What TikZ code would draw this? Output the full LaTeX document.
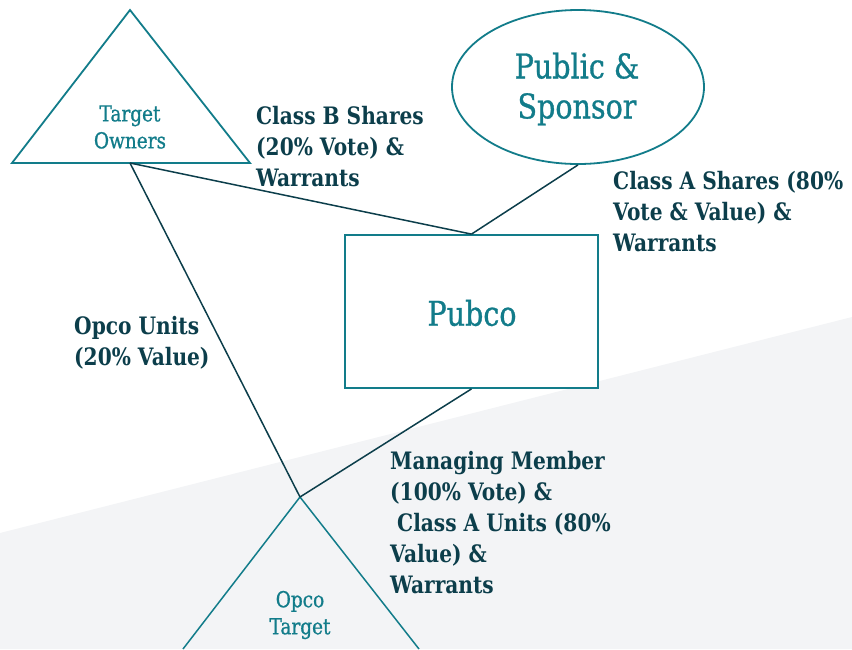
\documentclass[tikz,border=0pt]{standalone}
\usepackage{fontspec}
\setmainfont{DejaVu Serif}[FakeStretch=0.84]
\newfontfamily\tealfont{DejaVu Serif}[FakeStretch=0.84, FakeBold=0.8]
\usetikzlibrary{shapes.geometric}
\definecolor{teal1}{HTML}{127C8A}
\definecolor{dark1}{HTML}{0C3E4B}
\definecolor{bg1}{HTML}{F3F4F6}
\tikzset{
  outl/.style={draw=teal1, line width=1.8pt},
  conn/.style={draw=dark1, line width=1.5pt},
  lbl/.style={text=dark1, font=\bfseries\fontsize{24}{31}\selectfont, align=left, anchor=north west, inner sep=0pt},
  small/.style={text=teal1, font=\tealfont\fontsize{22}{27}\selectfont, align=center},
  big/.style={text=teal1, font=\tealfont\fontsize{34}{40}\selectfont, align=center},
}
\begin{document}
\begin{tikzpicture}[x=1pt,y=-1pt]
\useasboundingbox (0,0) rectangle (852,649);
\fill[bg1] (0,533) -- (852,317) -- (852,649) -- (0,649) -- cycle;
% Target Owners triangle
\coordinate (toA) at (130,10);
\coordinate (toL) at (12,163);
\coordinate (toR) at (250,163);
\coordinate (toB) at (130,163);
\draw[outl, line join=miter] (toA) -- (toL) -- (toR) -- cycle;
\node[small] (tot) at (130,127) {Target\\Owners};
% Public & Sponsor
\node[ellipse, outl, fill=white, minimum width=252pt, minimum height=154pt, inner sep=0pt] (ps) at (578,87) {};
\node[big] (pst) at (577,89) {Public \&\\Sponsor};
% Pubco
\node[rectangle, outl, fill=white, minimum width=253pt, minimum height=153pt, inner sep=0pt] (pub) at (471.5,311.5) {};
\node[big] (pubt) at (472,313) {Pubco};
% Opco Target
\coordinate (opA) at (300,497);
\coordinate (opL) at (183,649);
\coordinate (opR) at (419,649);
\draw[draw=teal1, line width=1.5pt] (opL) -- (opA) -- (opR);
\node[small] (opt) at (300,615) {Opco\\Target};
% connectors
\draw[conn] (toB) -- (pub.north);
\draw[conn] (ps.south) -- (pub.north);
\draw[conn] (pub.south) -- (opA);
\draw[conn] (toB) -- (opA);
% labels
\node[lbl] (l1) at (256,106) {Class B Shares\\(20\% Vote) \&\\Warrants};
\node[lbl] (l2) at (613,171) {Class A Shares (80\%\\Vote \& Value) \&\\Warrants};
\node[lbl] (l3) at (74,316) {Opco Units\\(20\% Value)};
\node[lbl] (l4) at (390,451) {Managing Member\\(100\% Vote) \&\\\ Class A Units (80\%\\Value) \&\\Warrants};
\end{tikzpicture}
\end{document}
